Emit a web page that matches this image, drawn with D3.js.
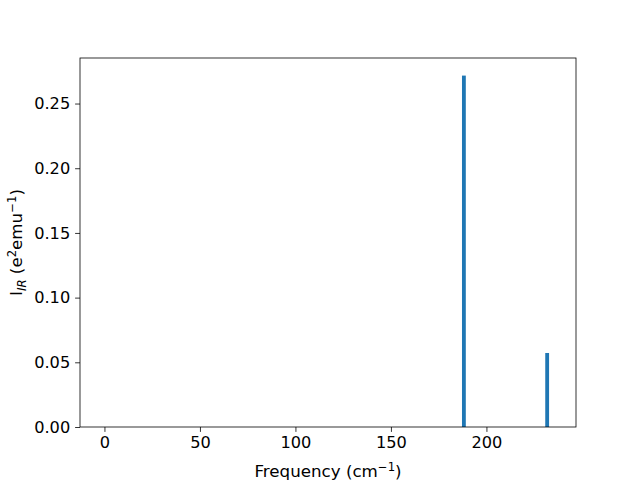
<!DOCTYPE html>
<html><head><meta charset="utf-8">
<script src="https://cdn.jsdelivr.net/npm/d3@7"></script>
<style>body{margin:0;background:#fff}svg{display:block;font-family:"DejaVu Sans",sans-serif}</style>
</head><body><svg id="c" width="640" height="480"></svg>
<script>
const frequencies = [188.2, 231.8];
const intensities = [0.2716, 0.0572];
const barWidth = 2;
const xTicks = [0, 50, 100, 150, 200];
const yTicks = [0, 0.05, 0.10, 0.15, 0.20, 0.25];
const xDomain = [-12.8, 246.9];
const yDomain = [0, 0.2852];

const svg = d3.select("#c");
const L = 80, R = 576, T = 58, B = 427;
const x = d3.scaleLinear().domain(xDomain).range([L, R]);
const y = d3.scaleLinear().domain(yDomain).range([B, T]);

svg.selectAll("rect.bar").data(frequencies).enter().append("rect")
  .attr("class","bar")
  .attr("x", d => x(d - barWidth/2))
  .attr("width", d => x(d + barWidth/2) - x(d - barWidth/2))
  .attr("y", (d,i) => y(intensities[i]))
  .attr("height", (d,i) => y(0) - y(intensities[i]))
  .attr("fill", "#1f77b4");

const xa = svg.append("g").attr("transform", `translate(0,${B})`)
  .call(d3.axisBottom(x).tickValues(xTicks).tickFormat(d3.format("d")).tickSize(4.9).tickPadding(4.9));
const ya = svg.append("g").attr("transform", `translate(${L},0)`)
  .call(d3.axisLeft(y).tickValues(yTicks).tickFormat(d3.format(".2f")).tickSize(4.9).tickPadding(4.9));
[xa, ya].forEach(a => {
  a.select(".domain").remove();
  a.selectAll("text").attr("font-size", "16.2px").attr("font-family", "DejaVu Sans").attr("fill", "#000");
  a.selectAll("line").attr("stroke", "#000").attr("stroke-width", 0.8);
});
svg.append("rect").attr("x", L).attr("y", T).attr("width", R - L).attr("height", B - T)
  .attr("fill", "none").attr("stroke", "#000").attr("stroke-width", 0.8);

const xl = svg.append("text").attr("x", (L + R) / 2).attr("y", 477).attr("text-anchor", "middle")
  .attr("font-size", "16.7px");
xl.append("tspan").text("Frequency (cm");
xl.append("tspan").attr("dy", -6).attr("font-size", "11.7px").text("\u22121");
xl.append("tspan").attr("dy", 6).text(")");

const yl = svg.append("text").attr("transform", `translate(22,${(T + B) / 2}) rotate(-90)`)
  .attr("text-anchor", "middle").attr("font-size", "16.7px");
yl.append("tspan").text("I");
yl.append("tspan").attr("dy", 3.5).attr("font-size", "11.7px").attr("font-style", "italic").text("IR");
yl.append("tspan").attr("dy", -3.5).text(" (e");
yl.append("tspan").attr("dy", -6).attr("font-size", "11.7px").text("2");
yl.append("tspan").attr("dy", 6).text("emu");
yl.append("tspan").attr("dy", -6).attr("font-size", "11.7px").text("\u22121");
yl.append("tspan").attr("dy", 6).text(")");
</script></body></html>
